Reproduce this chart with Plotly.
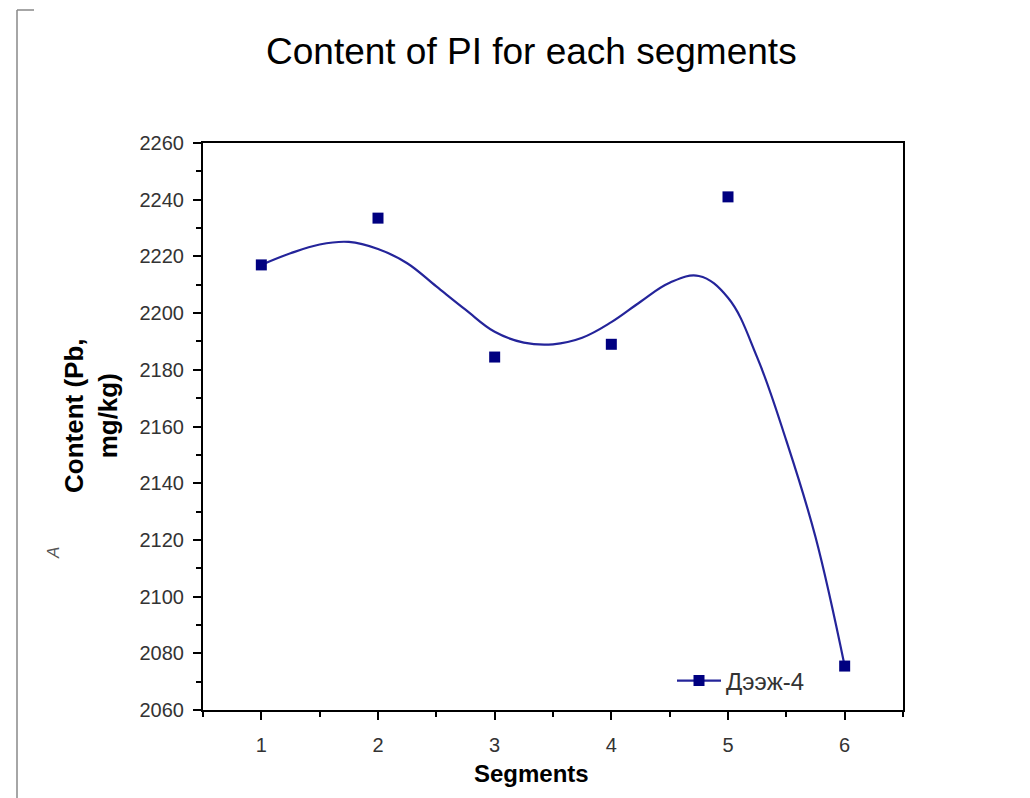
import plotly.graph_objects as go

# ---- data ----
segments = [1, 2, 3, 4, 5, 6]
content = [2217, 2233.5, 2184.5, 2189, 2241, 2075.5]

# smooth curve
curve_x = [1, 1.25, 1.5, 1.75, 2, 2.25, 2.5, 2.75, 3, 3.25, 3.5, 3.75,
           4, 4.25, 4.5, 4.75, 5, 5.25, 5.5, 5.75, 6]
curve_y = [2217, 2221.1, 2224.2, 2225.1, 2222.6, 2217.6, 2209.4, 2201.2,
           2193.4, 2189.6, 2189.0, 2191.3, 2196.8, 2204.0, 2210.7, 2213.1,
           2205.4, 2184.4, 2155.0, 2121.0, 2075.5]

x_ticks = [1, 2, 3, 4, 5, 6]
series_name = "Дээж-4"
title_text = "Content of PI for each segments"
x_title = "Segments"
y_title_lines = ["Content (Pb,", "mg/kg)"]

LINE_COLOR = "#24249a"
MARK_COLOR = "#000080"
FONT = "Liberation Sans, Arial, sans-serif"
TICK_COLOR = "#333333"

fig = go.Figure()

fig.add_trace(go.Scatter(
    x=curve_x, y=curve_y, mode="lines",
    line=dict(color=LINE_COLOR, width=2.2, shape="spline", smoothing=1.1),
    showlegend=False, hoverinfo="skip"))

fig.add_trace(go.Scatter(
    x=segments, y=content, mode="markers",
    marker=dict(symbol="square", size=11, color=MARK_COLOR),
    showlegend=False))

fig.add_trace(go.Scatter(
    x=[None], y=[None], mode="lines+markers", name=series_name,
    line=dict(color=LINE_COLOR, width=2.2),
    marker=dict(symbol="square", size=11, color=MARK_COLOR)))

axis_common = dict(
    showline=True, linewidth=2, linecolor="black", mirror=True,
    ticks="outside", ticklen=8, tickwidth=1.8, tickcolor="black",
    showgrid=False, zeroline=False,
    tickfont=dict(family=FONT, size=20, color=TICK_COLOR),
)

fig.update_xaxes(
    range=[0.5, 6.5], tickmode="array", tickvals=x_ticks,
    ticklabelstandoff=8,
    minor=dict(ticks="outside", ticklen=5, tickwidth=1.5, tickcolor="black",
               tickmode="linear", tick0=0.5, dtick=0.5, showgrid=False),
    **axis_common)

fig.update_yaxes(
    range=[2060, 2260], tickmode="linear", tick0=2060, dtick=20,
    ticklabelstandoff=5,
    minor=dict(ticks="outside", ticklen=5, tickwidth=1.5, tickcolor="black",
               tickmode="linear", tick0=2060, dtick=10, showgrid=False),
    **axis_common)

W, H = 1030, 798
L, R, T, B = 203, 903, 143, 710


def px_x(p):
    return (p - L) / (R - L)


def px_y(p):
    return (B - p) / (B - T)


annotations = [
    dict(text=title_text, x=px_x(531), y=px_y(52), xref="paper", yref="paper",
         showarrow=False, xanchor="center", yanchor="middle",
         font=dict(family=FONT, size=37, color="black")),
    dict(text="<b>" + x_title + "</b>", x=px_x(531), y=px_y(773),
         xref="paper", yref="paper", showarrow=False,
         xanchor="center", yanchor="middle",
         font=dict(family=FONT, size=24, color="black")),
    dict(text="<br>".join("<b>" + s + "</b>" for s in y_title_lines),
         x=px_x(91), y=px_y(416), xref="paper", yref="paper",
         showarrow=False, xanchor="center", yanchor="middle", textangle=-90,
         font=dict(family=FONT, size=26, color="black")),
    dict(text="<i>A</i>", x=px_x(53), y=px_y(553), xref="paper", yref="paper",
         showarrow=False, xanchor="center", yanchor="middle", textangle=-90,
         font=dict(family=FONT, size=17, color="#555555")),
]

shapes = [
    dict(type="line", xref="paper", yref="paper",
         x0=px_x(17), x1=px_x(17), y0=px_y(10), y1=px_y(798),
         line=dict(color="#888888", width=1.5)),
    dict(type="line", xref="paper", yref="paper",
         x0=px_x(17), x1=px_x(34), y0=px_y(10), y1=px_y(10),
         line=dict(color="#888888", width=1.5)),
]

fig.update_layout(
    width=W, height=H,
    margin=dict(l=L, r=W - R, t=T, b=H - B, pad=0),
    paper_bgcolor="white", plot_bgcolor="white",
    font=dict(family=FONT),
    annotations=annotations, shapes=shapes,
    legend=dict(x=px_x(672), y=px_y(681), xanchor="left", yanchor="middle",
                bgcolor="rgba(0,0,0,0)", itemwidth=44,
                font=dict(family=FONT, size=24, color=TICK_COLOR)),
)

fig.write_html("out.html")
